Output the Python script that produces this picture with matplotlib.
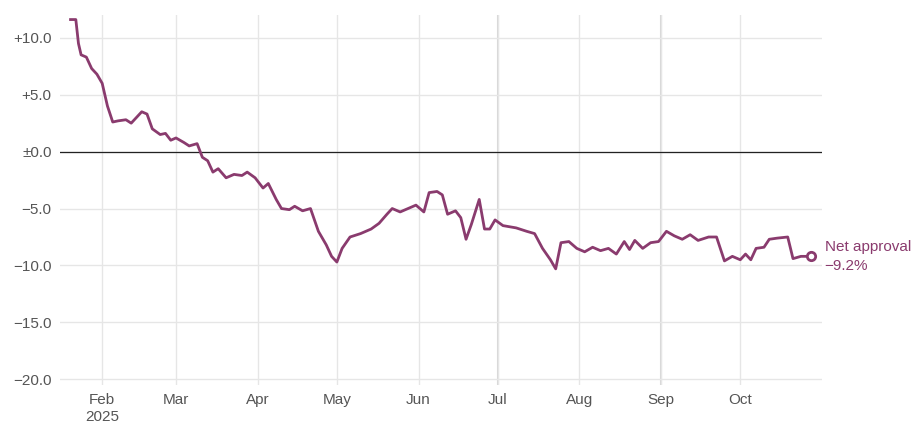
import datetime as dt
import pandas as pd
import matplotlib
matplotlib.use('Agg')
import matplotlib.pyplot as plt
import matplotlib.dates as mdates

plt.rcParams['font.family'] = ['Liberation Sans Narrow', 'Liberation Sans', 'DejaVu Sans']

dates = ['2025-01-20', '2025-01-22', '2025-01-23', '2025-01-24', '2025-01-26', '2025-01-28', '2025-01-30',
         '2025-02-01', '2025-02-03', '2025-02-05', '2025-02-07', '2025-02-10', '2025-02-12', '2025-02-14',
         '2025-02-16', '2025-02-18', '2025-02-20', '2025-02-23', '2025-02-25', '2025-02-27', '2025-03-01',
         '2025-03-04', '2025-03-06', '2025-03-09', '2025-03-11', '2025-03-13', '2025-03-15', '2025-03-17',
         '2025-03-20', '2025-03-23', '2025-03-26', '2025-03-28', '2025-03-31', '2025-04-03', '2025-04-05',
         '2025-04-08', '2025-04-10', '2025-04-13', '2025-04-15', '2025-04-18', '2025-04-21', '2025-04-24',
         '2025-04-27', '2025-04-29', '2025-05-01', '2025-05-03', '2025-05-06', '2025-05-10', '2025-05-14',
         '2025-05-17', '2025-05-20', '2025-05-22', '2025-05-25', '2025-05-28', '2025-05-31', '2025-06-03',
         '2025-06-05', '2025-06-08', '2025-06-10', '2025-06-12', '2025-06-15', '2025-06-17', '2025-06-19',
         '2025-06-21', '2025-06-24', '2025-06-26', '2025-06-28', '2025-06-30', '2025-07-03', '2025-07-08',
         '2025-07-12', '2025-07-15', '2025-07-18', '2025-07-21', '2025-07-23', '2025-07-25', '2025-07-28',
         '2025-07-31', '2025-08-03', '2025-08-06', '2025-08-09', '2025-08-12', '2025-08-15', '2025-08-18',
         '2025-08-20', '2025-08-22', '2025-08-25', '2025-08-28', '2025-08-31', '2025-09-03', '2025-09-06',
         '2025-09-09', '2025-09-12', '2025-09-15', '2025-09-19', '2025-09-22', '2025-09-25', '2025-09-28',
         '2025-10-01', '2025-10-03', '2025-10-05', '2025-10-07', '2025-10-10', '2025-10-12', '2025-10-15',
         '2025-10-19', '2025-10-21', '2025-10-24', '2025-10-28']
net = [11.6, 11.6, 9.5, 8.5, 8.3, 7.3, 6.8,
       6.0, 4.0, 2.6, 2.7, 2.8, 2.5, 3.0,
       3.5, 3.3, 2.0, 1.5, 1.6, 1.0, 1.2,
       0.8, 0.5, 0.7, -0.5, -0.8, -1.8, -1.5,
       -2.3, -2.0, -2.1, -1.8, -2.3, -3.2, -2.8,
       -4.2, -5.0, -5.1, -4.8, -5.2, -5.0, -7.0,
       -8.2, -9.2, -9.7, -8.5, -7.5, -7.2, -6.8,
       -6.3, -5.5, -5.0, -5.3, -5.0, -4.7, -5.3,
       -3.6, -3.5, -3.8, -5.5, -5.2, -5.8, -7.7,
       -6.4, -4.2, -6.8, -6.8, -6.0, -6.5, -6.7,
       -7.0, -7.2, -8.5, -9.5, -10.3, -8.0, -7.9,
       -8.5, -8.8, -8.4, -8.7, -8.5, -9.0, -7.9,
       -8.6, -7.8, -8.5, -8.0, -7.9, -7.0, -7.4,
       -7.7, -7.3, -7.8, -7.5, -7.5, -9.6, -9.2,
       -9.5, -9.0, -9.5, -8.5, -8.4, -7.7, -7.6,
       -7.5, -9.4, -9.2, -9.2]
yticks = [10, 5, 0, -5, -10, -15, -20]
ylabels = ['+10.0', '+5.0', '±0.0', '−5.0', '−10.0', '−15.0', '−20.0']

color = '#8a3b6e'
x = pd.to_datetime(dates)

fig = plt.figure(figsize=(9.13, 4.4), dpi=100)
ax = fig.add_axes([60 / 913, 55 / 440, 762 / 913, 370 / 440])

ax.plot(x, net, color=color, lw=2, zorder=3)
ax.plot(x[-1], net[-1], 'o', ms=6, mfc='white', mec=color, mew=2, zorder=4)
ax.text(x[-1] + pd.Timedelta(days=5), net[-1], 'Net approval\n−9.2%', color=color,
        fontsize=11, va='center', ha='left', linespacing=1.4, clip_on=False)

ax.axhline(0, color='#222222', lw=0.9, zorder=2)
ax.set_ylim(-20.5, 12)
ax.set_yticks(yticks)
ax.set_yticklabels(ylabels)
ax.set_xlim(dt.date(2025, 1, 16), dt.date(2025, 11, 1))
months = pd.date_range('2025-02-01', '2025-10-01', freq='MS')
ax.set_xticks(months)
ax.set_xticklabels(['Feb\n2025'] + [m.strftime('%b') for m in months[1:]])
ax.grid(True, color='#e6e6e6', lw=1)
for m in ['2025-07-01', '2025-09-01']:
    ax.axvline(pd.Timestamp(m), color='#d6d6d6', lw=1.5, zorder=1)
ax.tick_params(length=0, labelsize=11, colors='#555555', pad=6)
for s in ax.spines.values():
    s.set_visible(False)

fig.savefig('out.png', dpi=100)
